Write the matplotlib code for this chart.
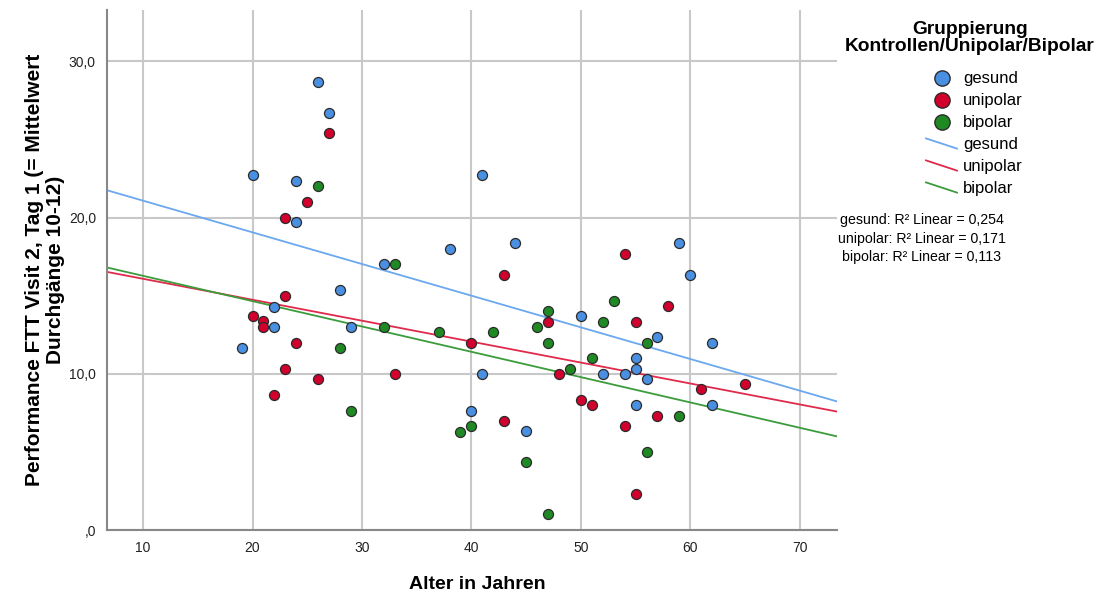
import numpy as np
import matplotlib
matplotlib.use("Agg")
import matplotlib.pyplot as plt
from matplotlib.lines import Line2D

plt.rcParams['font.family'] = ['Liberation Sans', 'DejaVu Sans']

# ages / FTT performance per group
age_gesund = [26, 27, 20, 24, 24, 41, 44, 38, 32, 59, 60, 28, 22, 22, 29, 19,
              50, 57, 62, 55, 55, 41, 52, 54, 56, 55, 62, 40, 45]
ftt_gesund = [28.7, 26.7, 22.7, 22.35, 19.7, 22.7, 18.35, 18.0, 17.0, 18.35, 16.35, 15.35, 14.3, 13.0, 13.0, 11.67,
              13.67, 12.33, 12.0, 11.0, 10.3, 10.0, 10.0, 10.0, 9.66, 8.0, 8.0, 7.65, 6.33]

age_unipolar = [27, 25, 23, 43, 54, 23, 20, 21, 21, 24, 40, 58, 47, 55, 23, 26,
                33, 48, 22, 65, 61, 50, 51, 57, 43, 54, 55]
ftt_unipolar = [25.4, 21.0, 20.0, 16.35, 17.7, 15.0, 13.7, 13.35, 13.0, 12.0, 12.0, 14.34, 13.33, 13.33, 10.3, 9.66,
                10.0, 10.0, 8.67, 9.32, 9.0, 8.33, 8.0, 7.33, 7.0, 6.67, 2.33]

age_bipolar = [26, 33, 53, 47, 52, 46, 32, 42, 37, 28, 47, 56, 51, 49, 29, 59,
               40, 39, 56, 45, 47]
ftt_bipolar = [22.0, 17.0, 14.68, 14.0, 13.33, 13.0, 13.0, 12.67, 12.67, 11.67, 12.0, 12.0, 11.0, 10.3, 7.65, 7.33,
               6.67, 6.3, 5.0, 4.33, 1.0]

groups = ['gesund', 'unipolar', 'bipolar']
r2_text = ['0,254', '0,171', '0,113']
dot_colors = ['#4a90e2', '#d2002c', '#1f8a24']
line_colors = ['#6aa8f0', '#e02a4c', '#3c9c3c']

data = [(age_gesund, ftt_gesund), (age_unipolar, ftt_unipolar), (age_bipolar, ftt_bipolar)]

fig = plt.figure(figsize=(11.11, 6.02), dpi=100)
ax = fig.add_axes([0.0963, 0.1196, 0.657, 0.864])

xmin, xmax = 6.7, 73.4
for (x, y), c in zip(data, dot_colors):
    ax.scatter(x, y, s=52, c=c, edgecolors='#2b2b2b', linewidths=0.9, zorder=3)

# linear fit per group
xs = np.array([xmin, xmax])
for (x, y), c in zip(data, line_colors):
    b, a = np.polyfit(x, y, 1)
    ax.plot(xs, a + b * xs, color=c, lw=1.3, zorder=2)

ax.set_xlim(xmin, xmax)
ax.set_ylim(0, 33.3)
ax.set_xticks([10, 20, 30, 40, 50, 60, 70])
ax.set_yticks([0, 10, 20, 30])
ax.set_yticklabels([',0', '10,0', '20,0', '30,0'])
ax.grid(True, color='#c8c8c8', lw=1.5)
ax.set_axisbelow(True)
ax.tick_params(length=0, labelsize=10, colors='#222222')
ax.tick_params(axis='x', pad=8)
ax.tick_params(axis='y', pad=8)
for s in ['top', 'right']:
    ax.spines[s].set_visible(False)
for s in ['left', 'bottom']:
    ax.spines[s].set_color('#888888')
    ax.spines[s].set_linewidth(1.5)

ax.set_xlabel('Alter in Jahren', fontsize=14, fontweight='bold', va='top')
ax.xaxis.set_label_coords(0.507, -0.088)
ax.set_ylabel('Performance FTT Visit 2, Tag 1 (= Mittelwert\nDurchgänge 10-12)', fontsize=15,
              fontweight='bold', linespacing=1.15)
ax.yaxis.set_label_coords(-0.057, 0.5)

# legend drawn by hand, SPSS style
fig.text(0.873, 0.937, 'Gruppierung\nKontrollen/Unipolar/Bipolar', ha='center', va='center',
         fontsize=13.8, fontweight='bold', linespacing=1.05)
row_y = [78, 100, 122, 145, 167, 189]
for i, g in enumerate(groups):
    yy = 1 - row_y[i] / 602
    fig.add_artist(Line2D([942 / 1111], [yy], marker='o', markersize=11, color=dot_colors[i],
                          markeredgecolor='#2b2b2b', markeredgewidth=1.0, transform=fig.transFigure))
    fig.text(963 / 1111, yy, g, ha='left', va='center', fontsize=12)
for i, g in enumerate(groups):
    yy = 1 - row_y[i + 3] / 602
    fig.add_artist(Line2D([926 / 1111, 957 / 1111], [yy + 0.011, yy - 0.006], color=line_colors[i],
                          lw=1.3, transform=fig.transFigure))
    fig.text(963 / 1111, yy, g, ha='left', va='center', fontsize=12)

r2_y = [220, 238.5, 257]
for i, g in enumerate(groups):
    fig.text(922 / 1111, 1 - r2_y[i] / 602, g + ': R\u00b2 Linear = ' + r2_text[i], ha='center', va='center',
             fontsize=10.2)

fig.savefig('out.png', dpi=100)
